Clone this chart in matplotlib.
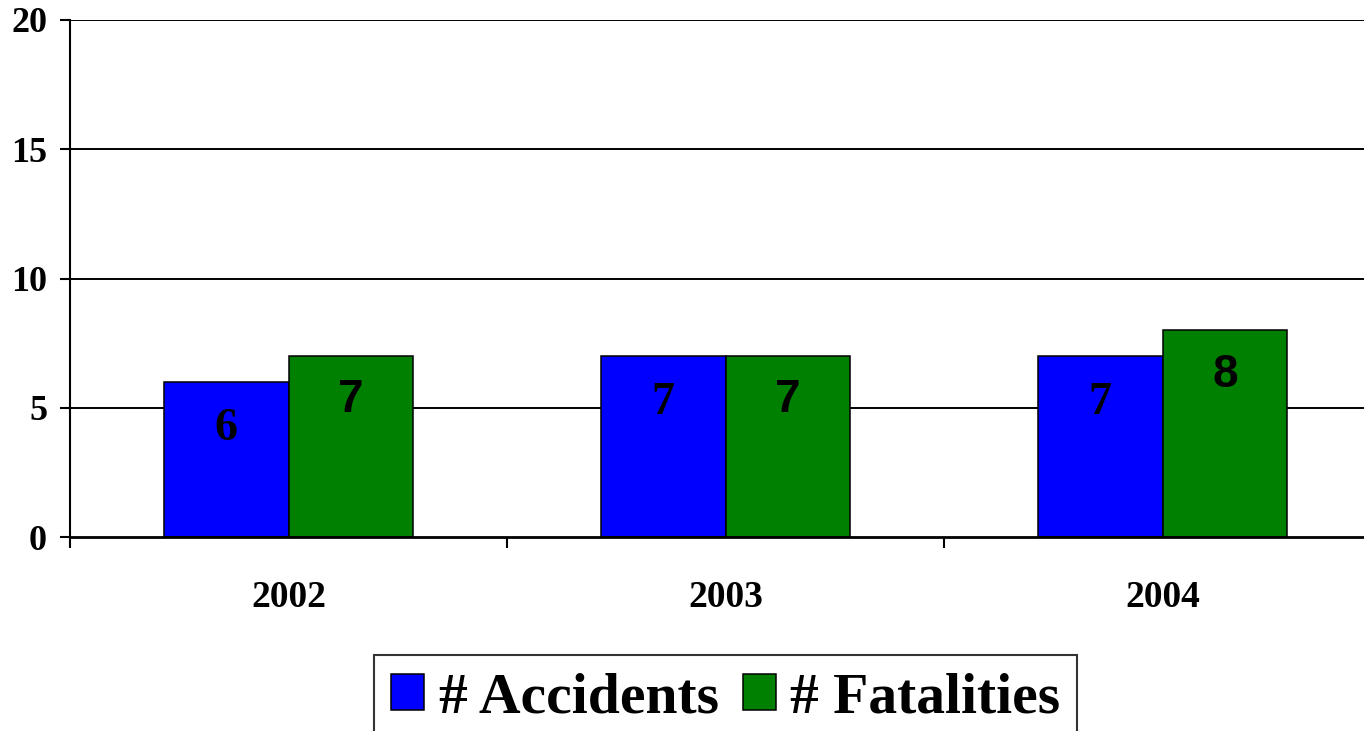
import matplotlib
matplotlib.use("Agg")
import matplotlib.pyplot as plt
import numpy as np
from matplotlib.patches import Patch

years = ["2002", "2003", "2004"]
accidents = [6, 7, 7]
fatalities = [7, 7, 8]
series_names = ["# Accidents", "# Fatalities"]
y_ticks = [0, 5, 10, 15, 20]

BLUE = "#0000ff"
GREEN = "#008000"
SERIF = ["Liberation Serif", "DejaVu Serif"]
SANS = ["Liberation Sans", "DejaVu Sans"]

fig = plt.figure(figsize=(13.64, 7.31), dpi=100)
ax = fig.add_axes([70 / 1364, 194 / 731, 1311 / 1364, 517 / 731])

x = np.arange(len(years))
width = 0.286
b1 = ax.bar(x - width / 2, accidents, width, color=BLUE, edgecolor="black", linewidth=1.1, zorder=3)
b2 = ax.bar(x + width / 2, fatalities, width, color=GREEN, edgecolor="black", linewidth=1.1, zorder=3)

for rect, v in zip(b1, accidents):
    ax.annotate(str(v), (rect.get_x() + rect.get_width() / 2, v), xytext=(0, -34),
                textcoords="offset points", ha="center", va="center",
                fontsize=33, fontweight="bold", family=SERIF, zorder=4)
for rect, v in zip(b2, fatalities):
    ax.annotate(str(v), (rect.get_x() + rect.get_width() / 2, v), xytext=(0, -32),
                textcoords="offset points", ha="center", va="center",
                fontsize=33, fontweight="bold", family=SANS, zorder=4)

ax.set_xlim(-0.5, 2.5)
ax.set_ylim(0, 20)
ax.set_yticks(y_ticks)
ax.set_yticklabels([str(t) for t in y_ticks], fontsize=26, fontweight="bold", family=SERIF)
ax.set_xticks(x)
ax.set_xticklabels(years, fontsize=27, fontweight="bold", family=SERIF)
ax.set_xticks([-0.5, 0.5, 1.5, 2.5], minor=True)
ax.tick_params(axis="x", which="major", length=0, pad=31)
ax.tick_params(axis="x", which="minor", length=8, width=1.5, direction="out")
ax.tick_params(axis="y", length=7.5, width=1.5, direction="out", pad=9)

for t in y_ticks[1:]:
    ax.axhline(t, color="black", linewidth=1.4, zorder=1)

for side in ("top", "right"):
    ax.spines[side].set_visible(False)
ax.spines["left"].set_linewidth(1.5)
ax.spines["bottom"].set_linewidth(2)
ax.spines["bottom"].set_zorder(5)

handles = [Patch(facecolor=BLUE, edgecolor="black", linewidth=1.1),
           Patch(facecolor=GREEN, edgecolor="black", linewidth=1.1)]
leg = fig.legend(handles, series_names, loc="upper left",
                 bbox_to_anchor=(374 / 1364, 1 - 655 / 731), ncol=2,
                 prop={"family": SERIF, "weight": "bold", "size": 41.5},
                 frameon=True, fancybox=False, edgecolor="black",
                 handlelength=0.57, handleheight=0.57, handletextpad=0.25,
                 columnspacing=0.42, borderpad=0.3, borderaxespad=0)
leg.get_frame().set_linewidth(1.5)

fig.savefig("out.png", dpi=100)
